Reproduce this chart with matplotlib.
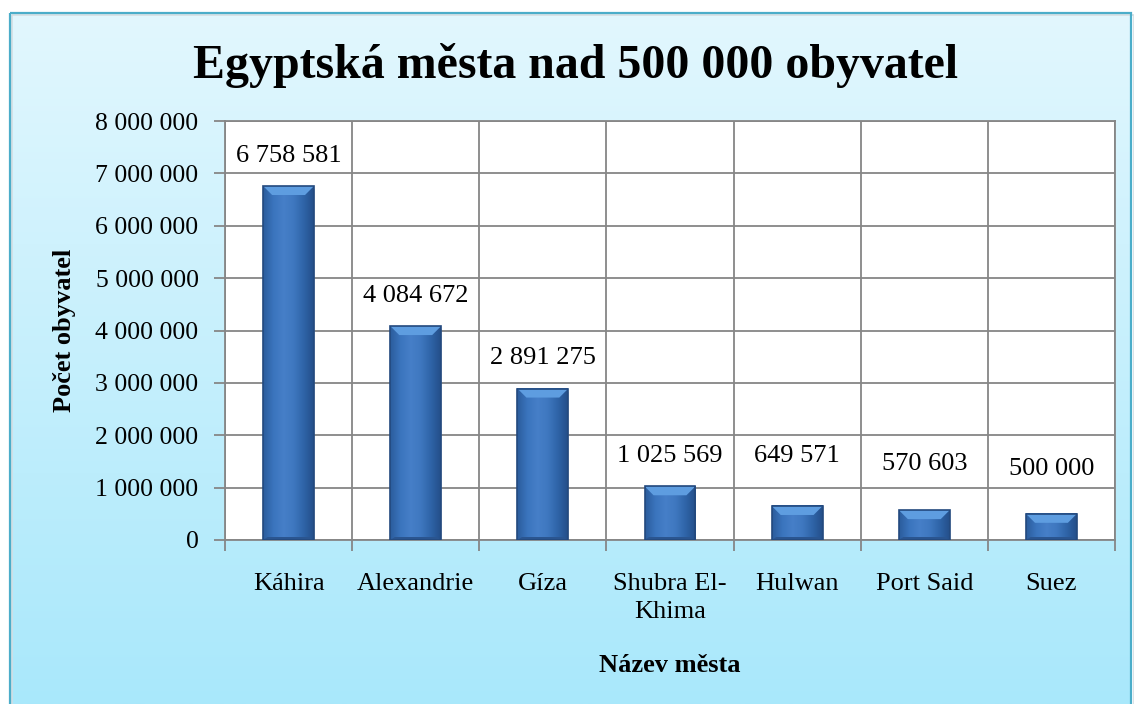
import matplotlib.pyplot as plt
import numpy as np
from matplotlib.colors import LinearSegmentedColormap
from matplotlib.patches import Rectangle, Polygon

cities = ['Káhira', 'Alexandrie', 'Gíza', 'Shubra El-\nKhima', 'Hulwan', 'Port Said', 'Suez']
population = [6758581, 4084672, 2891275, 1025569, 649571, 570603, 500000]
yticks = [0, 1000000, 2000000, 3000000, 4000000, 5000000, 6000000, 7000000, 8000000]


def fmt(v):
    return f'{v:,}'.replace(',', ' ')


plt.rcParams['font.family'] = ['Liberation Serif', 'DejaVu Serif']

fig = plt.figure(figsize=(11.34, 7.04), dpi=100)
W, H = 1134, 704

# background gradient + frame
bg = fig.add_axes([0, 0, 1, 1], zorder=-10)
bg.axis('off')
bg_cmap = LinearSegmentedColormap.from_list('bg', ['#e2f7fe', '#a9e8fb'])
grad = np.linspace(0, 1, 256).reshape(-1, 1)
bg.imshow(grad, extent=[10, 1131, 704, 13], cmap=bg_cmap, aspect='auto', zorder=1)
bg.add_patch(Rectangle((12, 15), 1122, 700, fill=False, ec='#d4dde2', lw=1.2, zorder=2))
bg.add_patch(Rectangle((10, 13), 1121, 700, fill=False, ec='#4badc9', lw=1.6, zorder=3))
bg.set_xlim(0, W)
bg.set_ylim(H, 0)

ax = fig.add_axes([225 / W, 1 - 540 / H, 890 / W, 419 / H])
ax.set_facecolor('white')
n = len(cities)
x = np.arange(n)

bar_w = 0.4
bar_cmap = LinearSegmentedColormap.from_list(
    'bar', ['#2b5c9c', '#3a74bd', '#467fc8', '#3f78c0', '#2f64a8', '#244f89'])
hgrad = np.linspace(0, 1, 128).reshape(1, -1)
px_x = n / 890
px_y = 8000000 / 419
# small bars get their labels lifted a bit more (like the original)
label_lift = [14, 14, 14, 14, 28, 25, 24]
for xi, v, lift in zip(x, population, label_lift):
    x0, x1 = xi - bar_w / 2, xi + bar_w / 2
    # shadow
    ax.add_patch(Rectangle((x0 + 0.5 * px_x, -3 * px_y), bar_w, v, color='#9aa7b5',
                           alpha=0.35, zorder=2, lw=0))
    ax.imshow(hgrad, extent=[x0, x1, 0, v], cmap=bar_cmap, aspect='auto', zorder=3)
    d = 9 * px_x
    dy = min(9 * px_y, v * 0.35)
    ax.add_patch(Polygon([(x0, v), (x1, v), (x1 - d, v - dy), (x0 + d, v - dy)],
                         closed=True, color='#5e9de0', lw=0, zorder=4))
    ax.add_patch(Polygon([(x0, 0), (x1, 0), (x1 - d * 0.5, 3 * px_y), (x0 + d * 0.5, 3 * px_y)],
                         closed=True, color='#2a5590', lw=0, zorder=4))
    ax.add_patch(Rectangle((x0, 0), bar_w, v, fill=False, ec='#23497e', lw=1.2, zorder=5))
    ax.annotate(fmt(v), (xi, v), xytext=(0, lift), textcoords='offset points',
                ha='center', va='bottom', fontsize=19, color='black', zorder=6)

ax.set_xlim(-0.5, n - 0.5)
ax.set_ylim(0, 8000000)

ax.set_yticks(yticks)
ax.set_yticklabels([fmt(v) for v in yticks], fontsize=18.5)
ax.set_xticks(x)
ax.set_xticklabels(cities, fontsize=19, linespacing=1.35, va='top')
ax.set_xticks(np.arange(n + 1) - 0.5, minor=True)
ax.tick_params(axis='x', which='major', length=0, pad=24)
ax.tick_params(axis='x', which='minor', length=8, color='#868686', width=1.3)
ax.tick_params(axis='y', length=8, color='#868686', width=1.3, pad=11)

ax.grid(axis='y', which='major', color='#868686', lw=1.3, zorder=0)
ax.grid(axis='x', which='minor', color='#868686', lw=1.3, zorder=0)
ax.set_axisbelow(True)
for s in ax.spines.values():
    s.set_color('#868686')
    s.set_linewidth(1.3)

ax.set_ylabel('Počet obyvatel', fontsize=19, fontweight='bold', labelpad=14)
ax.set_xlabel('Název města', fontsize=19, fontweight='bold', labelpad=22)
fig.text(576 / W, 1 - 65 / H, 'Egyptská města nad 500 000 obyvatel', ha='center', va='center',
         fontsize=34.5, fontweight='bold')

fig.savefig('out.png', dpi=100)
